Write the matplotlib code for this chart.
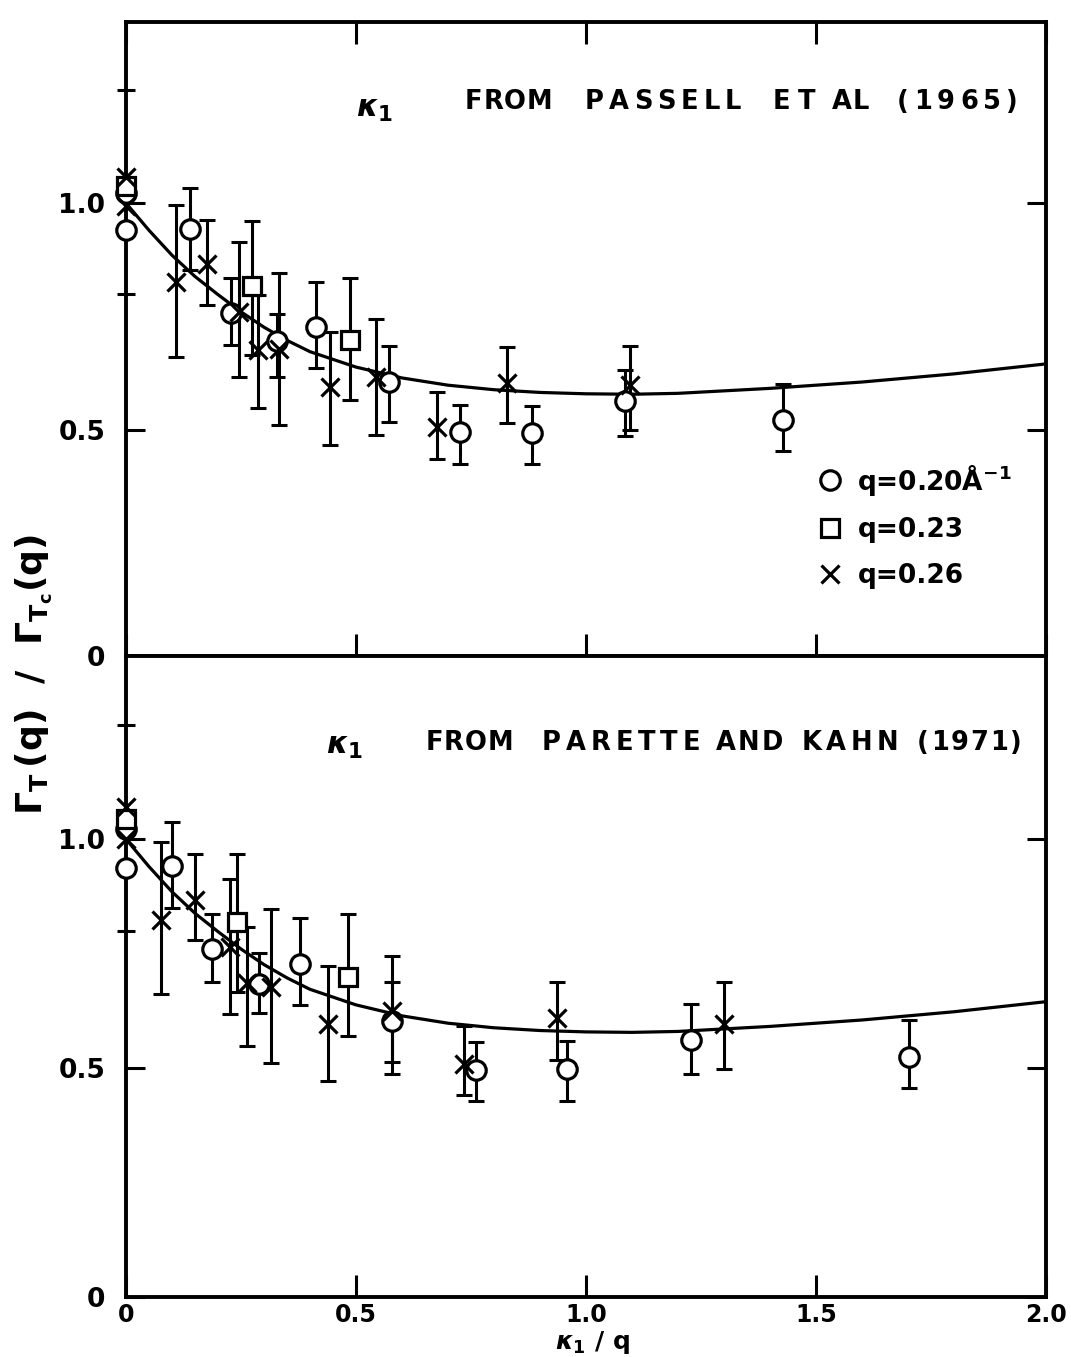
import numpy as np
import matplotlib
matplotlib.use("Agg")
import matplotlib.pyplot as plt
from matplotlib.font_manager import FontProperties

plt.rcParams['font.family'] = ['DejaVu Sans']
plt.rcParams['font.weight'] = 'bold'
plt.rcParams['mathtext.fontset'] = 'custom'
plt.rcParams['mathtext.rm'] = 'DejaVu Sans:bold'
plt.rcParams['mathtext.it'] = 'DejaVu Sans:italic:bold'
plt.rcParams['mathtext.bf'] = 'DejaVu Sans:bold'

nan = np.nan

# ---- theoretical curve ----
curve_x = [0.0, 0.05, 0.1, 0.15, 0.2, 0.25, 0.3, 0.35, 0.4, 0.5, 0.6, 0.7,
           0.8, 0.9, 1.0, 1.1, 1.2, 1.4, 1.6, 1.8, 2.0]
curve_y = [1.0, 0.94, 0.885, 0.838, 0.798, 0.760, 0.726, 0.697, 0.672, 0.638,
           0.614, 0.598, 0.588, 0.582, 0.579, 0.578, 0.580, 0.591, 0.605,
           0.623, 0.645]

# ---- top panel: kappa1 from Passell et al (1965) ----
pa_c_x = [0.0, 0.0, 0.139, 0.228, 0.328, 0.412, 0.572, 0.725, 0.883, 1.084, 1.428]
pa_c_y = [1.023, 0.94, 0.943, 0.757, 0.696, 0.727, 0.605, 0.495, 0.492, 0.562, 0.522]
pa_c_lo = [nan, nan, 0.852, 0.686, 0.616, 0.636, 0.517, 0.425, 0.425, 0.486, 0.453]
pa_c_hi = [nan, nan, 1.034, 0.834, 0.755, 0.826, 0.684, 0.555, 0.551, 0.631, 0.600]

pa_s_x = [0.0, 0.273, 0.487]
pa_s_y = [1.038, 0.818, 0.698]
pa_s_lo = [nan, 0.665, 0.566]
pa_s_hi = [nan, 0.961, 0.835]

pa_x_x = [0.0, 0.0, 0.109, 0.176, 0.246, 0.288, 0.332, 0.444, 0.543, 0.676, 0.828, 1.096]
pa_x_y = [1.058, 0.994, 0.826, 0.865, 0.760, 0.675, 0.677, 0.594, 0.617, 0.505, 0.602, 0.598]
pa_x_lo = [nan, nan, 0.660, 0.775, 0.617, 0.547, 0.510, 0.466, 0.487, 0.435, 0.514, 0.498]
pa_x_hi = [nan, nan, 0.995, 0.962, 0.914, 0.798, 0.845, 0.715, 0.744, 0.584, 0.683, 0.685]

# ---- bottom panel: kappa1 from Parette and Kahn (1971) ----
pk_c_x = [0.0, 0.0, 0.099, 0.187, 0.290, 0.378, 0.578, 0.760, 0.958, 1.228, 1.703]
pk_c_y = [1.023, 0.938, 0.941, 0.759, 0.683, 0.728, 0.602, 0.496, 0.497, 0.562, 0.525]
pk_c_lo = [nan, nan, 0.849, 0.689, 0.620, 0.637, 0.514, 0.428, 0.427, 0.487, 0.456]
pk_c_hi = [nan, nan, 1.037, 0.837, 0.752, 0.827, 0.688, 0.557, 0.560, 0.639, 0.606]

pk_s_x = [0.0, 0.241, 0.482]
pk_s_y = [1.045, 0.819, 0.700]
pk_s_lo = [nan, 0.667, 0.569]
pk_s_hi = [nan, 0.968, 0.837]

pk_x_x = [0.0, 0.0, 0.076, 0.149, 0.225, 0.264, 0.315, 0.440, 0.578, 0.735, 0.938, 1.300]
pk_x_y = [1.07, 1.0, 0.823, 0.867, 0.765, 0.686, 0.678, 0.596, 0.625, 0.509, 0.609, 0.597]
pk_x_lo = [nan, nan, 0.661, 0.779, 0.618, 0.549, 0.510, 0.472, 0.486, 0.442, 0.517, 0.498]
pk_x_hi = [nan, nan, 0.994, 0.968, 0.913, 0.808, 0.848, 0.723, 0.744, 0.592, 0.687, 0.687]

legend_labels = ['q=0.20Å$^{-1}$', 'q=0.23', 'q=0.26']
x_ticks = [0, 0.5, 1.0, 1.5, 2.0]
x_ticklabels = ['0', '0.5', '1.0', '1.5', '2.0']
y_ticks = [0, 0.5, 1.0]
y_ticklabels = ['0', '0.5', '1.0']
y_minor = [0.8, 1.25]

W, H = 1071, 1357
fig = plt.figure(figsize=(W / 100, H / 100), dpi=100)
fig.patch.set_facecolor('white')

L, R = 126, 1046
ax1 = fig.add_axes([L / W, 1 - 656 / H, (R - L) / W, 634 / H])
ax2 = fig.add_axes([L / W, 1 - 1297 / H, (R - L) / W, 641 / H])

MS = dict(circle=dict(marker='o', ms=14, mfc='white'),
          square=dict(marker='s', ms=12.5, mfc='white'),
          cross=dict(marker='x', ms=13.5))


def draw_series(ax, x, y, lo, hi, style, label):
    x = np.asarray(x); y = np.asarray(y)
    lo = np.asarray(lo); hi = np.asarray(hi)
    m = ~np.isnan(lo)
    ax.errorbar(x[m], y[m], yerr=[y[m] - lo[m], hi[m] - y[m]], fmt='none',
                ecolor='black', elinewidth=2.2, capsize=5.5, capthick=2.2,
                zorder=3, clip_on=False)
    h, = ax.plot(x, y, ls='none', color='black', mec='black', mew=2.3,
                 zorder=4, clip_on=False, label=label, **MS[style])
    return h


handles = []
for ax, data in [
    (ax1, [(pa_c_x, pa_c_y, pa_c_lo, pa_c_hi, 'circle'),
           (pa_s_x, pa_s_y, pa_s_lo, pa_s_hi, 'square'),
           (pa_x_x, pa_x_y, pa_x_lo, pa_x_hi, 'cross')]),
    (ax2, [(pk_c_x, pk_c_y, pk_c_lo, pk_c_hi, 'circle'),
           (pk_s_x, pk_s_y, pk_s_lo, pk_s_hi, 'square'),
           (pk_x_x, pk_x_y, pk_x_lo, pk_x_hi, 'cross')])]:
    ax.plot(curve_x, curve_y, color='black', lw=2.3, zorder=2)
    hs = []
    for (xx, yy, lo, hi, st), lab in zip(data, legend_labels):
        hs.append(draw_series(ax, xx, yy, lo, hi, st, lab))
    handles.append(hs)

    ax.set_xlim(0, 2.0)
    ax.set_ylim(0, 1.40)
    for sp in ax.spines.values():
        sp.set_linewidth(2.8)
    ax.set_xticks(x_ticks)
    ax.set_yticks(y_ticks)
    ax.set_yticklabels(y_ticklabels)
    ax.set_yticks(y_minor, minor=True)
    ax.tick_params(axis='y', which='major', direction='in', left=True,
                   right=True, length=14, width=2.2, labelsize=19, pad=15)
    ax.tick_params(axis='y', which='minor', direction='inout', left=True,
                   right=False, length=13, width=2.2)

ax1.tick_params(axis='x', which='major', direction='in', top=True,
                bottom=True, length=16, width=2.2, labelbottom=False)
ax2.tick_params(axis='x', which='major', direction='in', top=False,
                bottom=True, length=16, width=2.2, labelsize=17, pad=4)
ax2.set_xticklabels(x_ticklabels)

ax1.legend(handles=handles[0], loc='upper left', bbox_to_anchor=(0.752, 0.305),
           frameon=False, fontsize=19, handlelength=0.9, handletextpad=0.6,
           labelspacing=0.75, borderaxespad=0, borderpad=0, numpoints=1)

# ---- text ----
renderer = fig.canvas.get_renderer()
TFONT = FontProperties(family='DejaVu Sans', size=18.5, weight='bold')


def tracked(word, x0, x1, ybase):
    widths = [renderer.get_text_width_height_descent(c, TFONT, ismath=False)[0]
              for c in word]
    n = len(word)
    gap = (x1 - x0 - sum(widths)) / (n - 1) if n > 1 else 0
    if gap < 1.0:
        gap = 1.0
        total = sum(widths) + gap * (n - 1)
        x0 = (x0 + x1) / 2 - total / 2
    x = x0
    for c, w in zip(word, widths):
        fig.text(x / W, 1 - ybase / H, c, fontproperties=TFONT,
                 ha='left', va='baseline')
        x += w + gap


top_words = [('FROM', 469, 548), ('PASSELL', 585, 741), ('ET', 773, 815),
             ('AL', 832, 869), ('(1965)', 897, 1018)]
bot_words = [('FROM', 429, 510), ('PARETTE', 542, 700), ('AND', 716, 783),
             ('KAHN', 802, 898), ('(1971)', 917, 1022)]
for w, a, b in top_words:
    tracked(w, a, b, 109)
for w, a, b in bot_words:
    tracked(w, a, b, 750)

fig.text(356 / W, 1 - 117 / H, r'$\kappa_1$', fontsize=22, ha='left', va='baseline')
fig.text(326 / W, 1 - 754 / H, r'$\kappa_1$', fontsize=22, ha='left', va='baseline')

fig.text(34 / W, 1 - 675 / H,
         r'$\Gamma_{\mathrm{T}}\,(\mathrm{q})\ \ /\ \ \Gamma_{\mathrm{T_c}}(\mathrm{q})$',
         fontsize=26, rotation=90, ha='center', va='center')
fig.text(592 / W, 1 - 1343 / H, r'$\kappa_1\ /\ \mathrm{q}$', fontsize=18,
         ha='center', va='center')

fig.savefig('out.png', dpi=100, facecolor='white')
